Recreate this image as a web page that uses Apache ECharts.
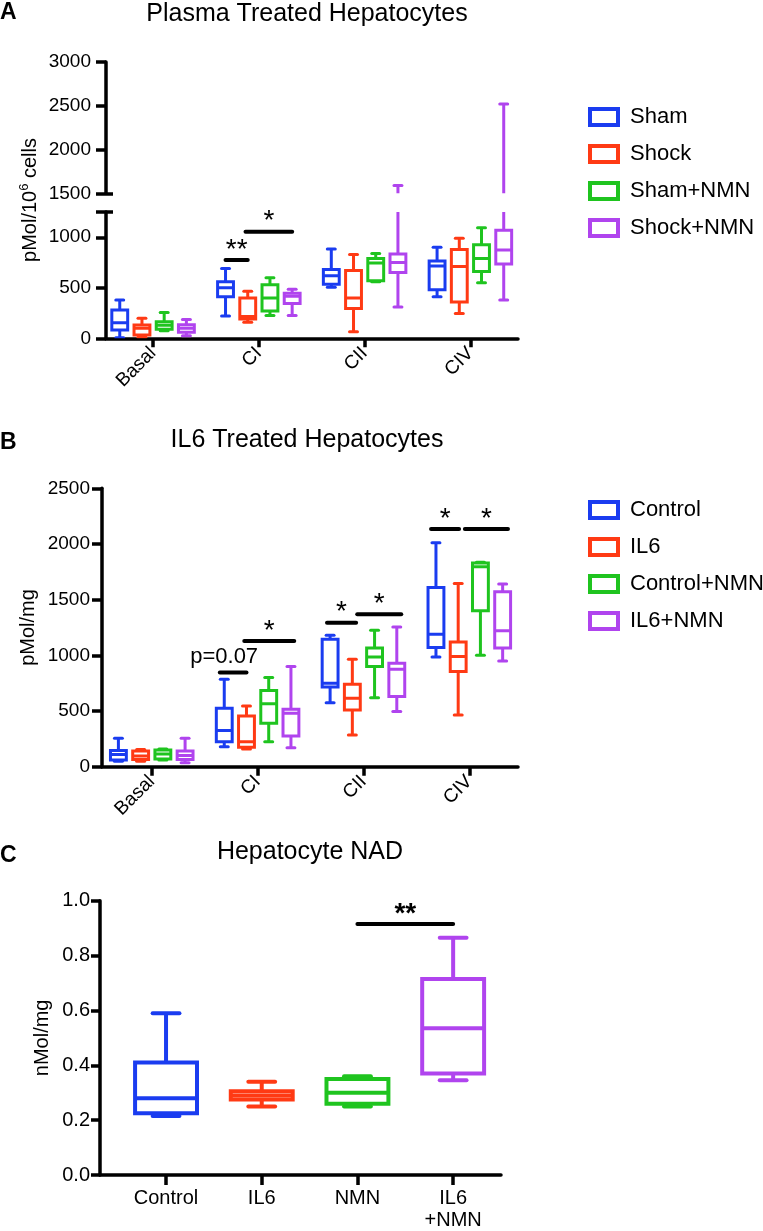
<!DOCTYPE html>
<html><head><meta charset="utf-8">
<script src="https://cdn.jsdelivr.net/npm/echarts@6/dist/echarts.min.js"></script>
<style>html,body{margin:0;padding:0;background:#fff}#c{width:763px;height:1231px}</style>
</head><body><div id="c"></div>
<script>
const FONT = '"Liberation Sans", Arial, Helvetica, sans-serif';
const COLORS = ['#1a3cf0', '#ff3a14', '#1fc41f', '#b044ee'];

// Categories and legend names
const catsAB = ['Basal', 'CI', 'CII', 'CIV'];
const namesA = ['Sham', 'Shock', 'Sham+NMN', 'Shock+NMN'];
const namesB = ['Control', 'IL6', 'Control+NMN', 'IL6+NMN'];
const catsC = ['Control', 'IL6', 'NMN', 'IL6\n+NMN'];

// Tick values
const ticksAUpper = [1500, 2000, 2500, 3000];
const ticksALower = [0, 500, 1000];
const ticksB = [0, 500, 1000, 1500, 2000, 2500];
const ticksC = [0, 0.2, 0.4, 0.6, 0.8, 1.0];

// Panel A: [min, q1, median, q3, max] per category (Basal, CI, CII, CIV)
const A_sham     = [[5, 82, 155, 280, 380], [220, 410, 500, 560, 690], [505, 535, 620, 680, 885], [410, 480, 715, 765, 900]];
const A_shock    = [[10, 33, 99, 132, 198], [158, 190, 215, 400, 465], [65, 295, 400, 670, 830], [245, 360, 710, 880, 990]];
const A_shamNMN  = [[75, 90, 130, 165, 255], [225, 270, 400, 530, 600], [560, 570, 745, 790, 840], [550, 660, 790, 925, 1095]];
const A_shockNMN = [[25, 60, 100, 135, 185], [225, 345, 415, 445, 485], [310, 650, 750, 835, 1590], [380, 735, 875, 1070, 2520]];

// Panel B
const B_control    = [[50, 60, 110, 145, 255], [180, 225, 325, 525, 785], [575, 715, 750, 1145, 1180], [985, 1070, 1190, 1610, 2010]];
const B_il6        = [[50, 65, 95, 140, 155], [160, 175, 225, 455, 545], [285, 510, 615, 740, 965], [465, 855, 990, 1120, 1645]];
const B_controlNMN = [[60, 70, 115, 150, 160], [225, 390, 565, 685, 800], [620, 900, 985, 1065, 1225], [1000, 1400, 1795, 1830, 1835]];
const B_il6NMN     = [[35, 65, 100, 140, 255], [170, 275, 480, 515, 900], [495, 630, 875, 930, 1255], [950, 1065, 1220, 1570, 1640]];

// Panel C: [min, q1, median, q3, max] per group
const C_nad = [[0.215, 0.225, 0.28, 0.41, 0.59], [0.25, 0.275, 0.29, 0.305, 0.34], [0.25, 0.26, 0.30, 0.35, 0.36], [0.345, 0.37, 0.535, 0.715, 0.865]];

// Significance annotations: category, from-group, to-group, height, text
const sigA = [[1, 0, 1, 775, '**'], [1, 0.9, 3, 1055, '*']];
const sigB = [[1, -0.2, 1, 847, 'p=0.07'], [1, 0.9, 3.15, 1128, '*'], [2, -0.14, 1.17, 1293, '*'], [2, 1.22, 3.2, 1368, '*'], [3, -0.22, 1.04, 2134, '*'], [3, 1.3, 3.24, 2134, '*']];
const sigC = [[2, 3, 0.915, '**']];

const groupsA = [A_sham, A_shock, A_shamNMN, A_shockNMN];
const groupsB = [B_control, B_il6, B_controlNMN, B_il6NMN];

// group offset within a category (units of category spacing)
const offOf = g => -0.315 + 0.21 * g;

function boxRenderer(off, bw, cw, lw, colorFn) {
  return function (params, api) {
    const x = api.value(0);
    const unit = api.size([1, 0])[0];
    const px = api.coord([x, api.value(3)])[0] + off * unit;
    const y = i => api.coord([x, api.value(i)])[1];
    const yMin = y(1), yQ1 = y(2), yMed = y(3), yQ3 = y(4), yMax = y(5);
    const hb = bw * unit / 2, hc = cw * unit / 2;
    const color = colorFn(params.dataIndex);
    const st = { stroke: color, lineWidth: lw, fill: null };
    return {
      type: 'group', children: [
        { type: 'line', shape: { x1: px, y1: yQ3, x2: px, y2: yMax }, style: st },
        { type: 'line', shape: { x1: px, y1: yQ1, x2: px, y2: yMin }, style: st },
        { type: 'line', shape: { x1: px - hc, y1: yMax, x2: px + hc, y2: yMax }, style: Object.assign({}, st, { lineCap: 'round' }) },
        { type: 'line', shape: { x1: px - hc, y1: yMin, x2: px + hc, y2: yMin }, style: Object.assign({}, st, { lineCap: 'round' }) },
        { type: 'rect', shape: { x: px - hb, y: yQ3, width: 2 * hb, height: yQ1 - yQ3 }, style: Object.assign({}, st, { fill: '#fff' }) },
        { type: 'line', shape: { x1: px - hb, y1: yMed, x2: px + hb, y2: yMed }, style: st }
      ]
    };
  };
}

function sigRenderer(list, lw, fs) {
  return function (params, api) {
    const s = list[params.dataIndex];
    const unit = api.size([1, 0])[0];
    const p = api.coord([api.value(0), api.value(3)]);
    const x1 = p[0] + offOf(api.value(1)) * unit;
    const x2 = p[0] + offOf(api.value(2)) * unit;
    const txt = s[4];
    const isStar = txt.indexOf('*') >= 0;
    return {
      type: 'group', children: [
        { type: 'line', shape: { x1: x1, y1: p[1], x2: x2, y2: p[1] }, style: { stroke: '#000', lineWidth: lw, lineCap: 'round' } },
        { type: 'text', x: (x1 + x2) / 2 + (isStar ? 0 : -9), y: p[1] + (isStar ? 4 : -4),
          style: { text: txt, fill: '#000', font: (isStar ? fs + 6 : fs) + 'px ' + FONT, align: 'center', verticalAlign: 'bottom' } }
      ]
    };
  };
}

function boxData(g) { return g.map((v, i) => [i].concat(v)); }

const axisLineStyle = { show: true, onZero: false, lineStyle: { color: '#000', width: 3.5 } };
const tickStyle = (len) => ({ show: true, length: len, lineStyle: { color: '#000', width: 3.5 } });

function xAxisCfg(gridIndex, min, max, cats, opts) {
  return Object.assign({
    type: 'value', gridIndex: gridIndex, min: min, max: max,
    axisLine: axisLineStyle,
    axisTick: Object.assign(tickStyle(9), { customValues: [0, 1, 2, 3] }),
    axisLabel: { customValues: [0, 1, 2, 3], formatter: v => cats[Math.round(v)], color: '#000', fontFamily: FONT, fontSize: 19, rotate: 45, margin: 12 },
    splitLine: { show: false }
  }, opts || {});
}

const series = [];
groupsA.forEach((g, i) => {
  [[0, 0], [1, 2]].forEach(([xi, yi]) => {
    series.push({
      type: 'custom', name: namesA[i], xAxisIndex: xi, yAxisIndex: yi, clip: true,
      itemStyle: { color: COLORS[i] },
      encode: { x: 0, y: [1, 2, 3, 4, 5] },
      renderItem: boxRenderer(offOf(i), 0.15, 0.075, 3, () => COLORS[i]),
      data: boxData(g), silent: true
    });
  });
});
groupsB.forEach((g, i) => {
  series.push({
    type: 'custom', name: namesB[i], xAxisIndex: 2, yAxisIndex: 4, clip: true,
    itemStyle: { color: COLORS[i] },
    encode: { x: 0, y: [1, 2, 3, 4, 5] },
    renderItem: boxRenderer(offOf(i), 0.15, 0.075, 3, () => COLORS[i]),
    data: boxData(g), silent: true
  });
});
series.push({
  type: 'custom', name: 'NAD', xAxisIndex: 3, yAxisIndex: 5, clip: true,
  encode: { x: 0, y: [1, 2, 3, 4, 5] },
  renderItem: boxRenderer(0, 0.647, 0.28, 4, i => COLORS[i]),
  data: boxData(C_nad), silent: true
});
series.push({
  type: 'custom', name: 'sigA', xAxisIndex: 1, yAxisIndex: 2, silent: true,
  encode: { x: 0, y: 3 },
  renderItem: sigRenderer(sigA, 4, 22),
  data: sigA.map(s => s.slice(0, 4))
});
series.push({
  type: 'custom', name: 'sigB', xAxisIndex: 2, yAxisIndex: 4, silent: true,
  encode: { x: 0, y: 3 },
  renderItem: sigRenderer(sigB, 4, 22),
  data: sigB.map(s => s.slice(0, 4))
});
series.push({
  type: 'custom', name: 'sigC', xAxisIndex: 3, yAxisIndex: 5, silent: true,
  encode: { x: 0, y: 3 },
  renderItem: function (params, api) {
    const s = sigC[params.dataIndex];
    const a = api.coord([s[0], s[2]]), b = api.coord([s[1], s[2]]);
    return {
      type: 'group', children: [
        { type: 'line', shape: { x1: a[0], y1: a[1], x2: b[0], y2: b[1] }, style: { stroke: '#000', lineWidth: 4, lineCap: 'round' } },
        { type: 'text', x: (a[0] + b[0]) / 2, y: a[1] + 4, style: { text: s[3], fill: '#000', font: 'bold 28px ' + FONT, align: 'center', verticalAlign: 'bottom' } }
      ]
    };
  },
  data: sigC.map(s => [s[0], s[1], s[2], s[2]])
});

function legendCfg(names, top) {
  return {
    orient: 'vertical', left: 583, top: top, itemWidth: 28, itemHeight: 16, itemGap: 15,
    selectedMode: false, icon: 'rect',
    textStyle: { fontFamily: FONT, fontSize: 22, color: '#000', padding: [0, 0, 0, 7] },
    data: names.map((n, i) => ({ name: n, icon: 'rect', itemStyle: { color: '#fff', borderColor: COLORS[i], borderWidth: 4 } }))
  };
}

const yLabel = (fs, margin) => ({ color: '#000', fontFamily: FONT, fontSize: fs, margin: margin, formatter: v => String(v) });

const option = {
  animation: false,
  grid: [
    { left: 106, top: 62, width: 412, height: 131.3 },
    { left: 106, top: 212, width: 412, height: 126.3 },
    { left: 102, top: 488.3, width: 416, height: 278.4 },
    { left: 100, top: 900.7, width: 401, height: 276.6 }
  ],
  xAxis: [
    xAxisCfg(0, -0.445, 3.45, catsAB, { show: false }),
    xAxisCfg(1, -0.445, 3.45, catsAB),
    xAxisCfg(2, -0.47, 3.46, catsAB),
    xAxisCfg(3, -0.69, 3.5, catsC, {
      axisTick: Object.assign(tickStyle(10), { customValues: [0, 1, 2, 3] }),
      axisLabel: { customValues: [0, 1, 2, 3], formatter: v => catsC[Math.round(v)], color: '#000', fontFamily: FONT, fontSize: 20, margin: 12, lineHeight: 22 }
    })
  ],
  yAxis: [
    { type: 'value', gridIndex: 0, min: 1500, max: 3000, interval: 500, position: 'left',
      axisLine: axisLineStyle, axisTick: Object.assign(tickStyle(10), { customValues: ticksAUpper }),
      axisLabel: Object.assign(yLabel(19, 15), { customValues: ticksAUpper }), splitLine: { show: false } },
    { type: 'value', gridIndex: 0, min: 1500, max: 3000, position: 'left', offset: 0,
      axisLine: { show: false, onZero: false }, axisTick: Object.assign(tickStyle(7), { inside: true, customValues: [1500] }),
      axisLabel: { show: false }, splitLine: { show: false } },
    { type: 'value', gridIndex: 1, min: 0, max: 1250, position: 'left',
      axisLine: axisLineStyle, axisTick: Object.assign(tickStyle(10), { customValues: ticksALower.concat([1250]) }),
      axisLabel: Object.assign(yLabel(19, 15), { customValues: ticksALower }), splitLine: { show: false } },
    { type: 'value', gridIndex: 1, min: 0, max: 1250, position: 'left', offset: 0,
      axisLine: { show: false, onZero: false }, axisTick: Object.assign(tickStyle(7), { inside: true, customValues: [1250] }),
      axisLabel: { show: false }, splitLine: { show: false } },
    { type: 'value', gridIndex: 2, min: 0, max: 2500, interval: 500, position: 'left',
      name: 'pMol/mg', nameLocation: 'middle', nameGap: 64, nameMoveOverlap: false,
      nameTextStyle: { color: '#000', fontFamily: FONT, fontSize: 20 },
      axisLine: axisLineStyle, axisTick: Object.assign(tickStyle(10), { customValues: ticksB }),
      axisLabel: Object.assign(yLabel(19, 12), { customValues: ticksB }), splitLine: { show: false } },
    { type: 'value', gridIndex: 3, min: 0, max: 1, interval: 0.2, position: 'left',
      name: 'nMol/mg', nameLocation: 'middle', nameGap: 48, nameMoveOverlap: false,
      nameTextStyle: { color: '#000', fontFamily: FONT, fontSize: 20 },
      axisLine: axisLineStyle, axisTick: Object.assign(tickStyle(9), { customValues: ticksC }),
      axisLabel: Object.assign(yLabel(20, 10), { customValues: ticksC, formatter: v => v.toFixed(1) }), splitLine: { show: false } }
  ],
  legend: [legendCfg(namesA, 101), legendCfg(namesB, 494)],
  graphic: [
    { type: 'text', x: 307, y: 14, style: { text: 'Plasma Treated Hepatocytes', font: '25px ' + FONT, fill: '#000', align: 'center', verticalAlign: 'middle' } },
    { type: 'text', x: 307, y: 440, style: { text: 'IL6 Treated Hepatocytes', font: '25px ' + FONT, fill: '#000', align: 'center', verticalAlign: 'middle' } },
    { type: 'text', x: 310, y: 852, style: { text: 'Hepatocyte NAD', font: '25px ' + FONT, fill: '#000', align: 'center', verticalAlign: 'middle' } },
    { type: 'text', x: 0, y: 13, style: { text: 'A', font: 'bold 23px ' + FONT, fill: '#000', align: 'left', verticalAlign: 'middle' } },
    { type: 'text', x: 0, y: 443, style: { text: 'B', font: 'bold 23px ' + FONT, fill: '#000', align: 'left', verticalAlign: 'middle' } },
    { type: 'text', x: 0, y: 856, style: { text: 'C', font: 'bold 23px ' + FONT, fill: '#000', align: 'left', verticalAlign: 'middle' } },
    { type: 'text', x: 30, y: 200, rotation: Math.PI / 2,
      style: { text: '{a|pMol/10}{s|6}{a| cells}', fill: '#000', align: 'center', verticalAlign: 'middle',
        rich: { a: { fontFamily: FONT, fontSize: 20 }, s: { fontFamily: FONT, fontSize: 13, padding: [0, 0, 12, 0] } } } }
  ],
  series: series
};

const chart = echarts.init(document.getElementById('c'), null, { renderer: 'canvas' });
chart.setOption(option);
</script>
</body></html>
